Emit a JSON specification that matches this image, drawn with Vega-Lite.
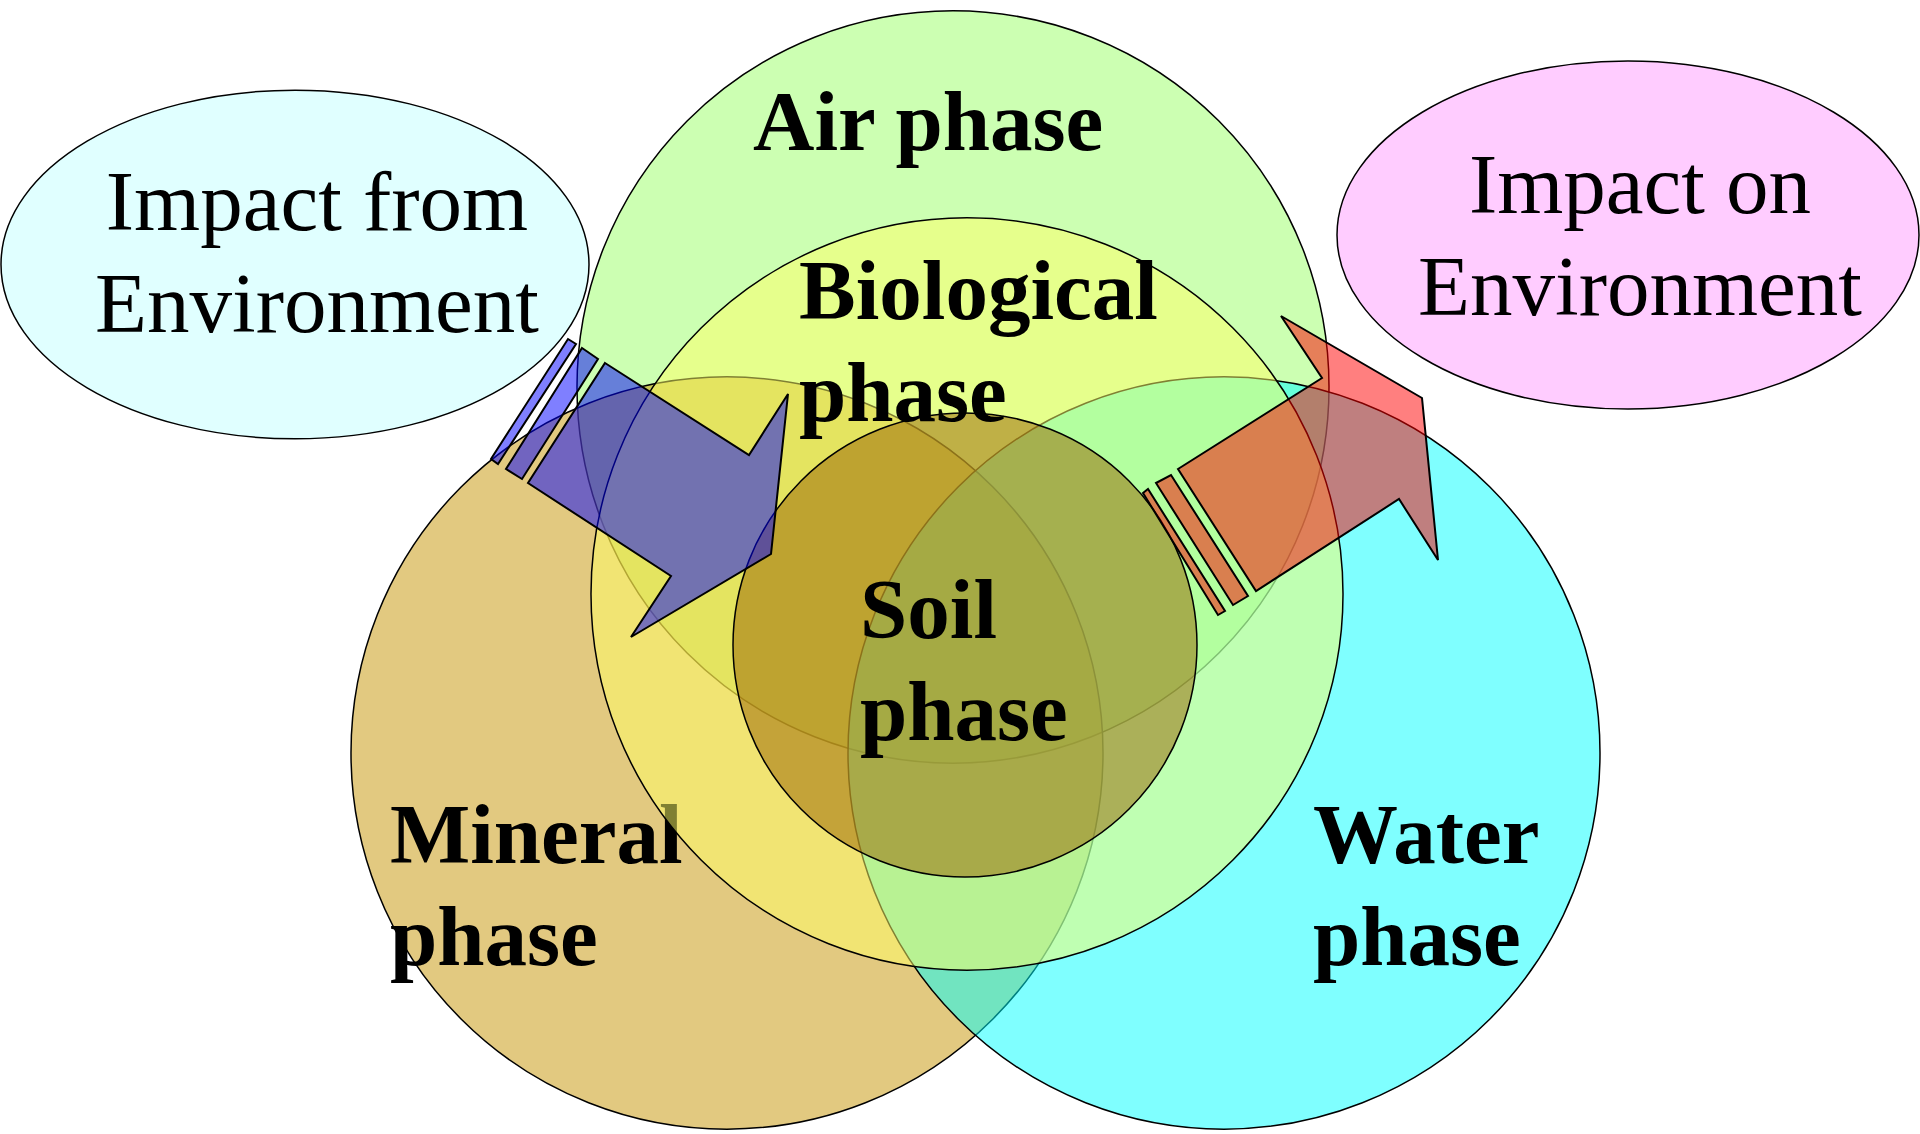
{
  "$schema": "https://vega.github.io/schema/vega-lite/v6.json",
  "width": 1920,
  "height": 1134,
  "autosize": {"type": "none"},
  "padding": 0,
  "background": "#FFFFFF",
  "config": {"view": {"stroke": null}},
  "datasets": {
    "ellipses": [
      {"name": "Impact from Environment", "cx": 295, "cy": 264.5, "rx": 294},
      {"name": "Impact on Environment", "cx": 1628, "cy": 235, "rx": 291}
    ],
    "circles": [
      {"name": "Air", "cx": 953, "cy": 387, "r": 376},
      {"name": "Mineral", "cx": 727, "cy": 753, "r": 376},
      {"name": "Water", "cx": 1224, "cy": 753, "r": 376},
      {"name": "Biological", "cx": 967, "cy": 594, "r": 376},
      {"name": "Soil", "cx": 965, "cy": 645, "r": 232}
    ],
    "labels": [
      {"text": "Impact from\nEnvironment", "x": 317, "y": 230, "kind": "plain"},
      {"text": "Impact on\nEnvironment", "x": 1640, "y": 213, "kind": "plain"},
      {"text": "Mineral\nphase", "x": 390, "y": 863, "kind": "under"},
      {"text": "Air phase", "x": 753, "y": 150, "kind": "bold"},
      {"text": "Biological\nphase", "x": 799, "y": 319, "kind": "bold"},
      {"text": "Soil\nphase", "x": 860, "y": 638, "kind": "bold"},
      {"text": "Water\nphase", "x": 1313, "y": 863, "kind": "bold"}
    ],
    "arrows": [
      {"arrow": "in", "poly": "in_body", "i": 1, "x": 605, "y": 363},
      {"arrow": "in", "poly": "in_body", "i": 2, "x": 749, "y": 455},
      {"arrow": "in", "poly": "in_body", "i": 3, "x": 788, "y": 394},
      {"arrow": "in", "poly": "in_body", "i": 4, "x": 771, "y": 554},
      {"arrow": "in", "poly": "in_body", "i": 5, "x": 631, "y": 637},
      {"arrow": "in", "poly": "in_body", "i": 6, "x": 671, "y": 576},
      {"arrow": "in", "poly": "in_body", "i": 7, "x": 528, "y": 483},
      {"arrow": "in", "poly": "in_bar1", "i": 1, "x": 582, "y": 348},
      {"arrow": "in", "poly": "in_bar1", "i": 2, "x": 598, "y": 359},
      {"arrow": "in", "poly": "in_bar1", "i": 3, "x": 522, "y": 479},
      {"arrow": "in", "poly": "in_bar1", "i": 4, "x": 506, "y": 469},
      {"arrow": "in", "poly": "in_bar2", "i": 1, "x": 568, "y": 339},
      {"arrow": "in", "poly": "in_bar2", "i": 2, "x": 576, "y": 344},
      {"arrow": "in", "poly": "in_bar2", "i": 3, "x": 498, "y": 464},
      {"arrow": "in", "poly": "in_bar2", "i": 4, "x": 491, "y": 459},
      {"arrow": "out", "poly": "out_body", "i": 1, "x": 1178, "y": 469},
      {"arrow": "out", "poly": "out_body", "i": 2, "x": 1322, "y": 378},
      {"arrow": "out", "poly": "out_body", "i": 3, "x": 1281, "y": 316},
      {"arrow": "out", "poly": "out_body", "i": 4, "x": 1422, "y": 398},
      {"arrow": "out", "poly": "out_body", "i": 5, "x": 1438, "y": 560},
      {"arrow": "out", "poly": "out_body", "i": 6, "x": 1399, "y": 499},
      {"arrow": "out", "poly": "out_body", "i": 7, "x": 1256, "y": 591},
      {"arrow": "out", "poly": "out_bar1", "i": 1, "x": 1156, "y": 483},
      {"arrow": "out", "poly": "out_bar1", "i": 2, "x": 1171, "y": 475},
      {"arrow": "out", "poly": "out_bar1", "i": 3, "x": 1248, "y": 596},
      {"arrow": "out", "poly": "out_bar1", "i": 4, "x": 1233, "y": 605},
      {"arrow": "out", "poly": "out_bar2", "i": 1, "x": 1143, "y": 493},
      {"arrow": "out", "poly": "out_bar2", "i": 2, "x": 1148, "y": 489},
      {"arrow": "out", "poly": "out_bar2", "i": 3, "x": 1225, "y": 611},
      {"arrow": "out", "poly": "out_bar2", "i": 4, "x": 1218, "y": 615}
    ]
  },
  "encoding": {
    "x": {"field": "cx", "type": "quantitative", "scale": {"domain": [0, 1920], "nice": false, "zero": false}, "axis": null},
    "y": {"field": "cy", "type": "quantitative", "scale": {"domain": [0, 1134], "nice": false, "zero": false, "reverse": true}, "axis": null}
  },
  "layer": [
    {
      "data": {"name": "ellipses"},
      "transform": [{"filter": "datum.name === 'Impact from Environment'"}],
      "mark": {"type": "point", "shape": "M1,0C1,0.3275 0.5523,0.593 0,0.593C-0.5523,0.593 -1,0.3275 -1,0C-1,-0.3275 -0.5523,-0.593 0,-0.593C0.5523,-0.593 1,-0.3275 1,0Z", "filled": true, "fill": "#E0FFFF", "fillOpacity": 1, "opacity": 1, "stroke": "#000000", "strokeWidth": 1.5},
      "encoding": {"size": {"field": "rx", "type": "quantitative", "scale": {"type": "pow", "exponent": 2, "domain": [0, 1000], "range": [0, 4000000]}, "legend": null}}
    },
    {
      "data": {"name": "ellipses"},
      "transform": [{"filter": "datum.name === 'Impact on Environment'"}],
      "mark": {"type": "point", "shape": "M1,0C1,0.3275 0.5523,0.598 0,0.598C-0.5523,0.598 -1,0.3275 -1,0C-1,-0.3275 -0.5523,-0.598 0,-0.598C0.5523,-0.598 1,-0.3275 1,0Z", "filled": true, "fill": "#FFCCFF", "fillOpacity": 1, "opacity": 1, "stroke": "#000000", "strokeWidth": 1.5},
      "encoding": {"size": {"field": "rx", "type": "quantitative", "scale": {"type": "pow", "exponent": 2, "domain": [0, 1000], "range": [0, 4000000]}, "legend": null}}
    },
    {
      "data": {"name": "labels"},
      "transform": [{"filter": "datum.kind === 'plain'"}],
      "mark": {"type": "text", "font": "Liberation Serif", "fontSize": 85, "align": "center", "baseline": "alphabetic", "lineBreak": "\n", "lineHeight": 102, "color": "#000000"},
      "encoding": {"x": {"field": "x", "type": "quantitative"}, "y": {"field": "y", "type": "quantitative"}, "text": {"field": "text"}}
    },
    {
      "data": {"name": "circles"},
      "transform": [{"filter": "datum.name === 'Air'"}],
      "mark": {"type": "point", "shape": "circle", "filled": true, "fill": "#99FF66", "fillOpacity": 0.5, "opacity": 1, "stroke": "#000000", "strokeWidth": 1.5},
      "encoding": {"size": {"field": "r", "type": "quantitative", "scale": {"type": "pow", "exponent": 2, "domain": [0, 1000], "range": [0, 4000000]}, "legend": null}}
    },
    {
      "data": {"name": "circles"},
      "transform": [{"filter": "datum.name === 'Mineral'"}],
      "mark": {"type": "point", "shape": "circle", "filled": true, "fill": "#C69402", "fillOpacity": 0.5, "opacity": 1, "stroke": "#000000", "strokeWidth": 1.5},
      "encoding": {"size": {"field": "r", "type": "quantitative", "scale": {"type": "pow", "exponent": 2, "domain": [0, 1000], "range": [0, 4000000]}, "legend": null}}
    },
    {
      "data": {"name": "circles"},
      "transform": [{"filter": "datum.name === 'Water'"}],
      "mark": {"type": "point", "shape": "circle", "filled": true, "fill": "#00FFFF", "fillOpacity": 0.5, "opacity": 1, "stroke": "#000000", "strokeWidth": 1.5},
      "encoding": {"size": {"field": "r", "type": "quantitative", "scale": {"type": "pow", "exponent": 2, "domain": [0, 1000], "range": [0, 4000000]}, "legend": null}}
    },
    {
      "data": {"name": "labels"},
      "transform": [{"filter": "datum.kind === 'under'"}],
      "mark": {"type": "text", "font": "Liberation Serif", "fontWeight": "bold", "fontSize": 85, "align": "left", "baseline": "alphabetic", "lineBreak": "\n", "lineHeight": 102, "color": "#000000"},
      "encoding": {"x": {"field": "x", "type": "quantitative"}, "y": {"field": "y", "type": "quantitative"}, "text": {"field": "text"}}
    },
    {
      "data": {"name": "circles"},
      "transform": [{"filter": "datum.name === 'Biological'"}],
      "mark": {"type": "point", "shape": "circle", "filled": true, "fill": "#FFFF66", "fillOpacity": 0.5, "opacity": 1, "stroke": "#000000", "strokeWidth": 1.5},
      "encoding": {"size": {"field": "r", "type": "quantitative", "scale": {"type": "pow", "exponent": 2, "domain": [0, 1000], "range": [0, 4000000]}, "legend": null}}
    },
    {
      "data": {"name": "circles"},
      "transform": [{"filter": "datum.name === 'Soil'"}],
      "mark": {"type": "point", "shape": "circle", "filled": true, "fill": "#976200", "fillOpacity": 0.5, "opacity": 1, "stroke": "#000000", "strokeWidth": 1.5},
      "encoding": {"size": {"field": "r", "type": "quantitative", "scale": {"type": "pow", "exponent": 2, "domain": [0, 1000], "range": [0, 4000000]}, "legend": null}}
    },
    {
      "data": {"name": "labels"},
      "transform": [{"filter": "datum.kind === 'bold'"}],
      "mark": {"type": "text", "font": "Liberation Serif", "fontWeight": "bold", "fontSize": 85, "align": "left", "baseline": "alphabetic", "lineBreak": "\n", "lineHeight": 102, "color": "#000000"},
      "encoding": {"x": {"field": "x", "type": "quantitative"}, "y": {"field": "y", "type": "quantitative"}, "text": {"field": "text"}}
    },
    {
      "data": {"name": "arrows"},
      "transform": [{"filter": "datum.arrow === 'in'"}],
      "mark": {"type": "line", "interpolate": "linear-closed", "fill": "#0000FF", "fillOpacity": 0.5, "stroke": "#000000", "strokeWidth": 2, "strokeJoin": "miter", "opacity": 1},
      "encoding": {"x": {"field": "x", "type": "quantitative"}, "y": {"field": "y", "type": "quantitative"}, "detail": {"field": "poly"}, "order": {"field": "i", "type": "quantitative"}}
    },
    {
      "data": {"name": "arrows"},
      "transform": [{"filter": "datum.arrow === 'out'"}],
      "mark": {"type": "line", "interpolate": "linear-closed", "fill": "#FF0000", "fillOpacity": 0.5, "stroke": "#000000", "strokeWidth": 2, "strokeJoin": "miter", "opacity": 1},
      "encoding": {"x": {"field": "x", "type": "quantitative"}, "y": {"field": "y", "type": "quantitative"}, "detail": {"field": "poly"}, "order": {"field": "i", "type": "quantitative"}}
    }
  ]
}
